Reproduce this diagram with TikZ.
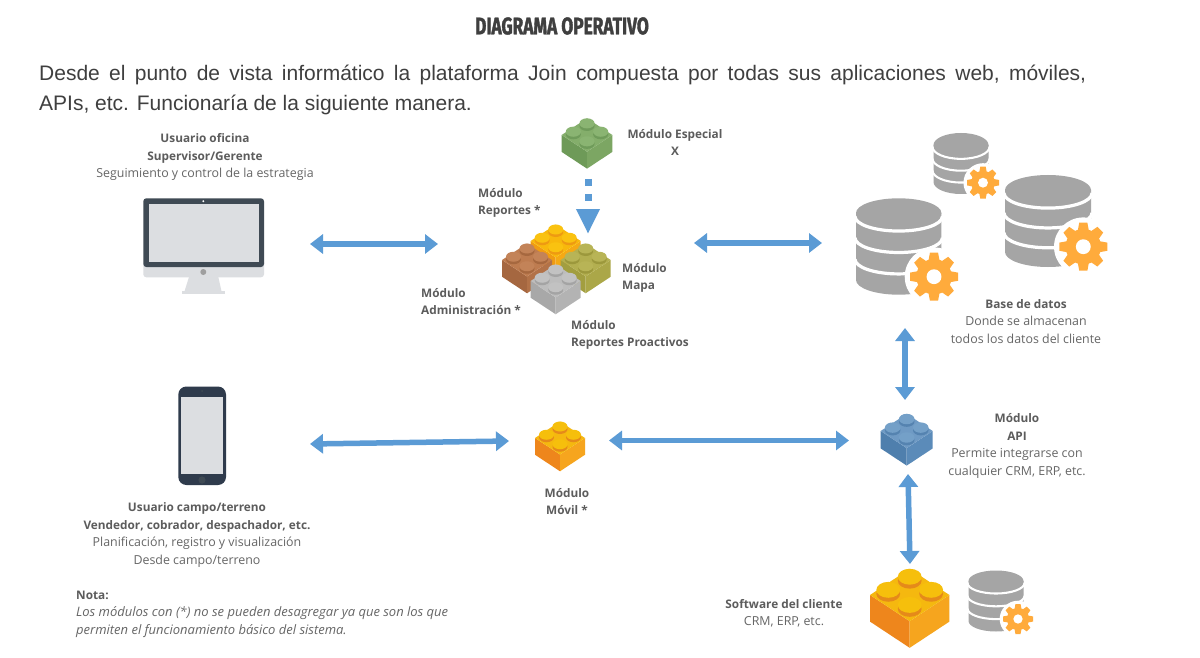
\documentclass[tikz,border=0pt]{standalone}
\usepackage{fontspec}
\setmainfont{Open Sans}
\newfontfamily\paraf{Liberation Sans}
\newfontfamily\titlef[FakeStretch=0.72,FakeBold=1.5]{Fira Sans}
\usetikzlibrary{arrows.meta}
\definecolor{arrowblue}{HTML}{5B9BD5}
\definecolor{dbgray}{HTML}{A5A5A5}
\definecolor{gearorange}{HTML}{FFAB3C}
\definecolor{lblgray}{HTML}{666666}
\definecolor{lbldark}{HTML}{3F3F3F}
\definecolor{framedark}{HTML}{3F4A54}
\definecolor{phonedark}{HTML}{2F3B4C}
\definecolor{screenlight}{HTML}{DCDEE1}
% brick palettes: top, left, right, stud, studside
\definecolor{gT}{HTML}{84AE6B}\definecolor{gL}{HTML}{6E9A58}\definecolor{gR}{HTML}{7CA663}\definecolor{gS}{HTML}{8AB472}\definecolor{gD}{HTML}{6F9B5A}
\definecolor{yT}{HTML}{F8B80C}\definecolor{yL}{HTML}{F09C12}\definecolor{yR}{HTML}{F5A914}\definecolor{yS}{HTML}{FAC210}\definecolor{yD}{HTML}{EE9A12}
\definecolor{bT}{HTML}{BE7C50}\definecolor{bL}{HTML}{A56740}\definecolor{bR}{HTML}{B27248}\definecolor{bS}{HTML}{C38358}\definecolor{bD}{HTML}{A6683F}
\definecolor{oT}{HTML}{B3AF50}\definecolor{oL}{HTML}{A29E40}\definecolor{oR}{HTML}{ABA748}\definecolor{oS}{HTML}{B8B456}\definecolor{oD}{HTML}{9C983C}
\definecolor{aT}{HTML}{BDBDBD}\definecolor{aL}{HTML}{A8A8A8}\definecolor{aR}{HTML}{B3B3B3}\definecolor{aS}{HTML}{C2C2C2}\definecolor{aD}{HTML}{A4A4A4}
\definecolor{nT}{HTML}{F5B80F}\definecolor{nL}{HTML}{EE861C}\definecolor{nR}{HTML}{F6A51E}\definecolor{nS}{HTML}{F6BF0C}\definecolor{nD}{HTML}{E58A1A}
\definecolor{sT}{HTML}{6F9AC4}\definecolor{sL}{HTML}{4F7FAD}\definecolor{sR}{HTML}{5B8BB9}\definecolor{sS}{HTML}{74A0C8}\definecolor{sD}{HTML}{5583B0}
\newcommand{\legobrick}[4]{% x,y,scale,palette letter
  \begin{scope}[shift={(#1,#2)},scale=#3]
    \fill[#4L] (-1,0) -- (0,.66) -- (0,1.33) -- (-1,.67) -- cycle;
    \fill[#4R] (1,0) -- (0,.66) -- (0,1.33) -- (1,.67) -- cycle;
    \fill[#4T] (-1,0) -- (0,-.66) -- (1,0) -- (0,.66) -- cycle;
    \foreach \sx/\sy in {0/-.46,-.54/-.13,.54/-.13,0/.25}{
      \fill[#4D] (\sx,\sy+.1) ellipse [x radius=.3,y radius=.2];
      \fill[#4S] (\sx,\sy) ellipse [x radius=.3,y radius=.2];
    }
  \end{scope}}
\newcommand{\gearicon}[3]{%
  \begin{scope}[shift={(#1,#2)},scale=#3]
    \fill[white] (0,0) circle (1.22);
    \foreach \ang in {0,45,...,315}{
      \fill[gearorange,rotate=\ang] (-.24,-.62) -- (-.17,-1) -- (.17,-1) -- (.24,-.62) -- cycle;
    }
    \fill[gearorange] (0,0) circle (.74);
    \fill[white] (0,0) circle (.31);
  \end{scope}}
\newcommand{\dbicon}[5]{% cx, top centre y, rx, ry, drop
  \begin{scope}[shift={(#1,#2)}]
    \fill[dbgray] (-#3,0) -- (-#3,#5) arc[start angle=180,end angle=0,x radius=#3,y radius=#4] -- (#3,0) -- cycle;
    \fill[dbgray] (0,0) ellipse [x radius=#3,y radius=#4];
    \foreach \fr in {.05,.37,.69}{
      \draw[white,line width=#3*.075pt] (-#3-1,#5*\fr) arc[start angle=180,end angle=0,x radius=#3+1,y radius=#4];
    }
  \end{scope}}
\newcommand{\bl}[1]{{\bfseries\color{lbldark!85!white}\fontsize{11.8}{17.4}\selectfont #1}}
\tikzset{
  lbl/.style={inner sep=0pt,text=lblgray,align=center,font=\fontsize{12.4}{17.4}\selectfont},
  lblleft/.style={lbl,align=left,anchor=west},
  biarrow/.style={arrowblue,line width=5.5pt,{Triangle[width=19pt,length=13pt]}-{Triangle[width=19pt,length=13pt]}},
  dotarrow/.style={arrowblue,line width=7pt,dash pattern=on 7pt off 8pt,-{Triangle[width=22pt,length=25pt]}}
}
\begin{document}
\begin{tikzpicture}[x=1pt,y=-1pt]
\useasboundingbox (0,0) rectangle (1200,658);
\fill[white] (0,0) rectangle (1200,658);

% heading
\node[inner sep=0pt,text=lbldark,font=\titlef\bfseries\fontsize{24}{26}\selectfont] (title) at (562,26) {DIAGRAMA OPERATIVO};
\node[inner sep=0pt,anchor=north west,align=left,text=lbldark,font=\paraf\fontsize{21}{30}\selectfont] (intro) at (39,65) {\hbox to 1047pt{Desde\hfil\ el\hfil\ punto\hfil\ de\hfil\ vista\hfil\ informático\hfil\ la\hfil\ plataforma\hfil\ Join\hfil\ compuesta\hfil\ por\hfil\ todas\hfil\ sus\hfil\ aplicaciones\hfil\ web,\hfil\ móviles,}\\APIs, etc. Funcionaría de la siguiente manera.};

% monitor
\fill[screenlight] (143.3,262) -- (264,262) -- (264,272) [rounded corners=3pt] -- (264,277.3) -- (143.3,277.3) -- (143.3,270) -- cycle;
\fill[screenlight] (189,277) -- (218.3,277) -- (221.7,292) -- (184.3,292) -- cycle;
\fill[screenlight] (182.3,291) rectangle (225,293.7);
\fill[framedark,rounded corners=3pt] (143.3,198.3) rectangle (264,267);
\fill[screenlight] (149,204) rectangle (258.7,262);
\fill[white] (203.3,201.2) circle (1.1);
\fill[gray!75] (203.3,272) circle (3);

% phone
\fill[phonedark,rounded corners=8pt] (178.3,386.5) rectangle (226,485);
\fill[screenlight] (181,397.3) rectangle (223.3,474.3);
\fill[framedark] (202,480) circle (3.6);
\fill[framedark] (202,391) circle (1);

% bricks
\legobrick{587}{135}{25.3}{g}
\legobrick{555.7}{241}{25}{y}
\legobrick{527}{260}{25}{b}
\legobrick{585.7}{260}{25}{o}
\legobrick{555.7}{281}{25}{a}
\legobrick{560}{438}{25}{n}
\legobrick{906.7}{431}{26}{s}
\legobrick{909.7}{595}{39.7}{n}

% databases
\dbicon{961}{145}{27.5}{12}{37}
\gearicon{983}{182.7}{16}
\dbicon{1048}{190}{43}{15}{62}
\gearicon{1083.3}{246.7}{24}
\dbicon{898.7}{213}{42.7}{14.7}{67}
\gearicon{934}{276.7}{24}
\dbicon{996}{581}{27.5}{10.5}{40}
\gearicon{1018}{619}{15}

% anchors for the connectors
\coordinate (deskR) at (310,244);
\coordinate (coreL) at (438,244);
\coordinate (coreR) at (694,243);
\coordinate (dbL) at (822,243);
\coordinate (espB) at (588,179);
\coordinate (coreT) at (588,234);
\coordinate (phoneR) at (310,444);
\coordinate (movilL) at (509,441);
\coordinate (movilR) at (609,440.5);
\coordinate (apiL) at (849,440.5);
\coordinate (dbB) at (905,328);
\coordinate (apiT) at (905,400);
\coordinate (apiB) at (908,474);
\coordinate (softT) at (910,564);

\draw[biarrow] (deskR) -- (coreL);
\draw[biarrow] (coreR) -- (dbL);
\draw[dotarrow] (espB) -- (coreT);
\draw[biarrow] (phoneR) -- (movilL);
\draw[biarrow] (movilR) -- (apiL);
\draw[biarrow] (dbB) -- (apiT);
\draw[biarrow] (apiB) -- (softT);

% labels
\node[lbl] (usuario) at (205,157) {\bl{Usuario oficina}\\\bl{Supervisor/Gerente}\\Seguimiento y control de la estrategia};
\node[lbl] (especial) at (675,142.5) {\bl{Módulo Especial}\\\bl{X}};
\node[lblleft] (reportes) at (478,203) {\bl{Módulo}\\\bl{Reportes *}};
\node[lblleft] (mapa) at (622,278) {\bl{Módulo}\\\bl{Mapa}};
\node[lblleft] (admin) at (421,301.5) {\bl{Módulo}\\\bl{Administración *}};
\node[lblleft] (proactivos) at (571,335) {\bl{Módulo}\\\bl{Reportes Proactivos}};
\node[lbl] (base) at (1026,321.5) {\bl{Base de datos}\\Donde se almacenan\\todos los datos del cliente};
\node[lbl] (api) at (1017,446) {\bl{Módulo}\\\bl{API}\\Permite integrarse con\\cualquier CRM, ERP, etc.};
\node[lbl] (movil) at (567,501.5) {\bl{Módulo}\\\bl{Móvil *}};
\node[lbl] (campo) at (197,535) {\bl{Usuario campo/terreno}\\\bl{Vendedor, cobrador, despachador, etc.}\\Planificación, registro y visualización\\Desde campo/terreno};
\node[lbl] (software) at (784,613) {\bl{Software del cliente}\\CRM, ERP, etc.};
\node[lblleft] (nota) at (76,614) {\bl{Nota:}\\{\fontsize{13}{17.4}\selectfont\itshape Los módulos con (*) no se pueden desagregar ya que son los que}\\{\fontsize{13}{17.4}\selectfont\itshape permiten el funcionamiento básico del sistema.}};
\end{tikzpicture}
\end{document}
